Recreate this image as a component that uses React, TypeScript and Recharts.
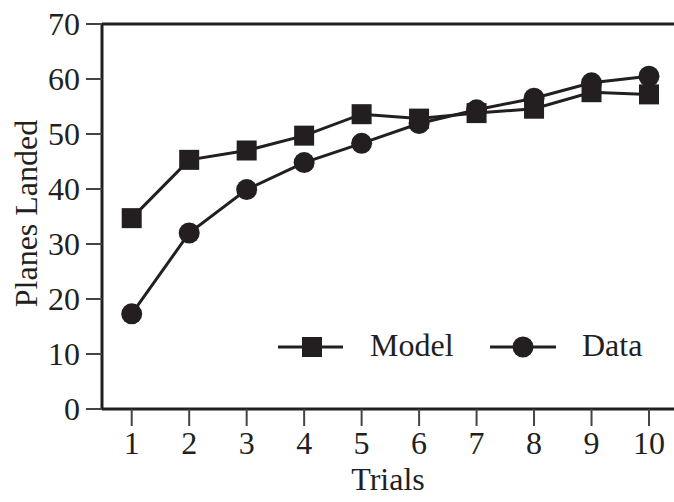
import React from "react";
import { LineChart, Line, XAxis, YAxis, ReferenceLine, Legend } from "recharts";

const trials = [1, 2, 3, 4, 5, 6, 7, 8, 9, 10];
const modelValues = [34.7, 45.3, 47.0, 49.7, 53.6, 52.8, 53.8, 54.6, 57.6, 57.2];
const dataValues = [17.3, 32.0, 39.9, 44.8, 48.3, 51.9, 54.4, 56.5, 59.3, 60.5];
const yTicks = [0, 10, 20, 30, 40, 50, 60, 70];

const rows = trials.map((t, i) => ({ trial: t, model: modelValues[i], data: dataValues[i] }));

const INK = "#231f20";
const FONT = "'Liberation Serif', 'Times New Roman', serif";
const FS = 32;

const SquareDot = (props: any) => {
  const { cx, cy, index } = props;
  if (cx == null || cy == null) return null;
  return <rect key={`sq-${index}`} x={cx - 10} y={cy - 10} width={20} height={20} fill={INK} />;
};

const YLabel = (props: any) => {
  const { viewBox } = props;
  const cy = viewBox.y + viewBox.height / 2 - 3;
  return (
    <text
      x={37}
      y={cy}
      transform={`rotate(-90, 37, ${cy})`}
      textAnchor="middle"
      fontFamily={FONT}
      fontSize={FS}
      fill={INK}
    >
      Planes Landed
    </text>
  );
};

const LegendBox = () => (
  <svg width={404} height={50}>
    <line x1={8} y1={27} x2={73} y2={27} stroke={INK} strokeWidth={3} />
    <rect x={32} y={17} width={20} height={20} fill={INK} />
    <text x={100} y={36} fontFamily={FONT} fontSize={FS} fill={INK}>
      Model
    </text>
    <line x1={220} y1={27} x2={286} y2={27} stroke={INK} strokeWidth={3} />
    <circle cx={253} cy={27} r={10.5} fill={INK} />
    <text x={312} y={36} fontFamily={FONT} fontSize={FS} fill={INK}>
      Data
    </text>
  </svg>
);

export default function App() {
  const tickStyle = { fontFamily: FONT, fontSize: FS, fill: INK };
  return (
    <div style={{ position: "absolute", left: 0, top: 0, background: "#fff" }}>
      <LineChart width={674} height={502} data={rows} margin={{ top: 24, right: 0, bottom: 0, left: 0 }}>
        <XAxis
          dataKey="trial"
          type="number"
          domain={[0.483, 10.435]}
          ticks={trials}
          allowDataOverflow
          height={93}
          tickSize={17}
          tickMargin={5}
          axisLine={{ stroke: INK, strokeWidth: 3 }}
          tickLine={{ stroke: "#444", strokeWidth: 2 }}
          tick={tickStyle}
          label={{
            value: "Trials",
            position: "insideBottom",
            offset: 12,
            style: { fontFamily: FONT, fontSize: FS, fill: INK },
          }}
        />
        <YAxis
          type="number"
          domain={[0, 70]}
          ticks={yTicks}
          width={102}
          tickSize={16}
          tickMargin={6}
          axisLine={{ stroke: INK, strokeWidth: 3 }}
          tickLine={{ stroke: "#444", strokeWidth: 2 }}
          tick={tickStyle}
          label={<YLabel />}
        />
        <ReferenceLine y={70} stroke={INK} strokeWidth={3} />
        <Legend
          layout="vertical"
          align="center"
          verticalAlign="middle"
          wrapperStyle={{ left: 270, top: 320, width: 404, height: 50 }}
          content={() => <LegendBox />}
        />
        <Line
          dataKey="data"
          stroke={INK}
          strokeWidth={3}
          dot={{ r: 10.5, fill: INK, stroke: "none" }}
          isAnimationActive={false}
        />
        <Line dataKey="model" stroke={INK} strokeWidth={3} dot={SquareDot} isAnimationActive={false} />
      </LineChart>
    </div>
  );
}
